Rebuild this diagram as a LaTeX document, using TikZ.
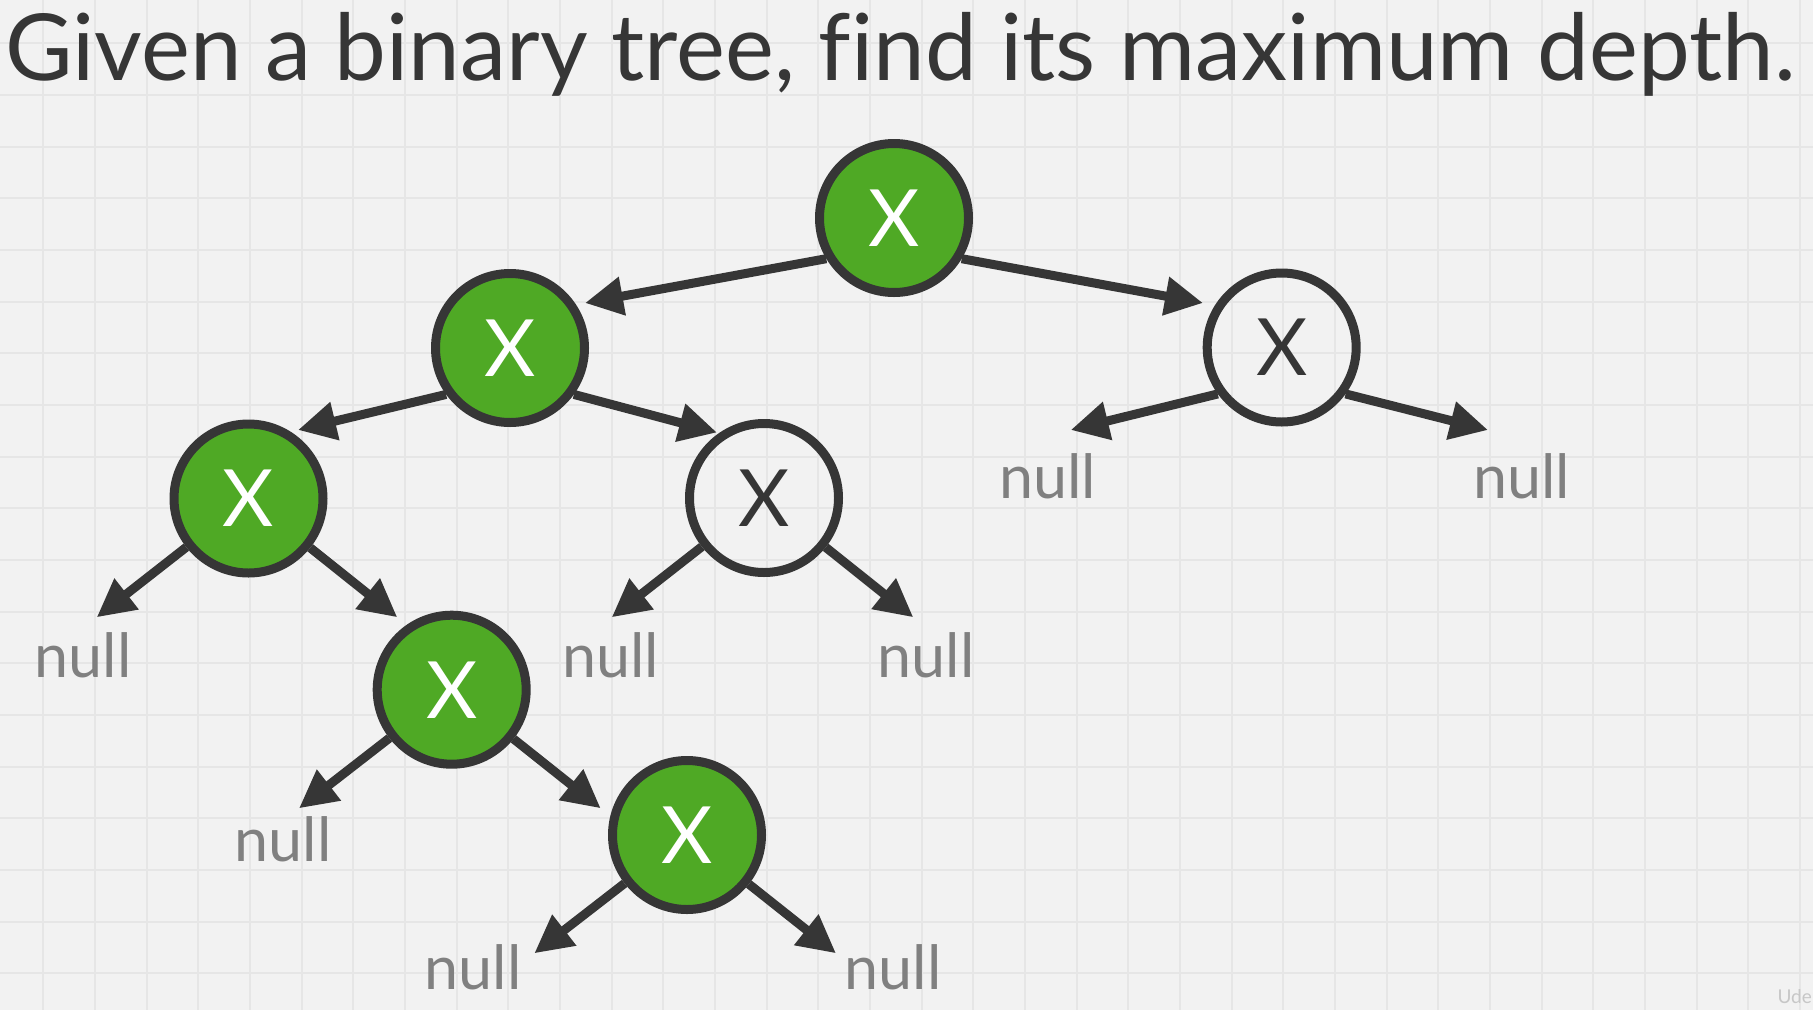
\documentclass[tikz,border=0pt]{standalone}
\usepackage{fontspec}
\setmainfont{Lato}[Ligatures=CommonOff]
\usetikzlibrary{arrows.meta}
\definecolor{bgc}{HTML}{F2F2F2}
\definecolor{gridc}{HTML}{E6E6E6}
\definecolor{ink}{HTML}{363636}
\definecolor{leaf}{HTML}{4FA925}
\definecolor{nullc}{HTML}{808080}
\tikzset{
  treenode/.style={circle, draw=ink, line width=9pt, minimum size=149pt, inner sep=0pt,
    font=\fontsize{79}{80}\selectfont},
  greennode/.style={treenode, fill=leaf, text=white},
  whitenode/.style={treenode, text=ink},
  edge/.style={draw=ink, line width=9pt, -{Triangle[length=38pt,width=37pt]}},
  nulltext/.style={anchor=base, text=nullc, inner sep=0pt, font=\fontsize{61}{62}\selectfont},
  gridline/.style={draw=gridc, line width=2pt}
}
\begin{document}
\begin{tikzpicture}[x=1pt,y=-1pt]
  \useasboundingbox (0,0) rectangle (1813,1010);
  \fill[bgc] (0,0) rectangle (1813,1010);
  \foreach \i in {0,...,34} { \draw[gridline] ({43.3+\i*51.67},0) -- ({43.3+\i*51.67},1010); }
  \foreach \i in {0,...,18} { \draw[gridline] (0,{43.3+\i*51.67}) -- (1813,{43.3+\i*51.67}); }

  \node[anchor=base west, inner sep=0pt, text=ink, font=\fontsize{92.5}{94}\selectfont] (title) at (5,80) {Given a binary tree, find its maximum depth.};

  % tree nodes
  \node[greennode] (root) at (894,218) {X};
  \node[greennode] (a) at (510,348) {X};
  \node[whitenode] (b) at (1281.7,347.5) {X};
  \node[greennode] (c) at (248.5,498.5) {X};
  \node[whitenode] (d) at (764,498) {X};
  \node[greennode] (e) at (451.7,689.7) {X};
  \node[greennode] (f) at (687,835) {X};

  % null labels
  \node[nulltext] (bl) at (1047.6,498) {null};
  \node[nulltext] (br) at (1521.7,498) {null};
  \node[nulltext] (cl) at (83,677) {null};
  \node[nulltext] (dl) at (610.5,677) {null};
  \node[nulltext] (dr) at (926,677) {null};
  \node[nulltext] (el) at (283,861.7) {null};
  \node[nulltext] (fl) at (473,989) {null};
  \node[nulltext] (fr) at (893,989) {null};

  % arrow tips
  \coordinate (tA) at (585,303);
  \coordinate (tB) at (1203,303);
  \coordinate (tC) at (298,430);
  \coordinate (tD) at (717,432.5);
  \coordinate (tBL) at (1070.7,430);
  \coordinate (tBR) at (1488,430);
  \coordinate (tCL) at (96.7,617.3);
  \coordinate (tE) at (397.3,617.3);
  \coordinate (tDL) at (611.7,617.3);
  \coordinate (tDR) at (913.3,617.3);
  \coordinate (tEL) at (299,808.3);
  \coordinate (tF) at (600.7,808.3);
  \coordinate (tFL) at (534.3,953.3);
  \coordinate (tFR) at (836,953.3);

  \draw[edge] (root.211) -- (tA);
  \draw[edge] (root.329) -- (tB);
  \draw[edge] (a.216) -- (tC);
  \draw[edge] (a.324) -- (tD);
  \draw[edge] (b.216) -- (tBL);
  \draw[edge] (b.324) -- (tBR);
  \draw[edge] (c) -- (tCL);
  \draw[edge] (c) -- (tE);
  \draw[edge] (d) -- (tDL);
  \draw[edge] (d) -- (tDR);
  \draw[edge] (e) -- (tEL);
  \draw[edge] (e) -- (tF);
  \draw[edge] (f) -- (tFL);
  \draw[edge] (f) -- (tFR);

  \node[anchor=base east, inner sep=0pt, text=black!22, font=\fontsize{19}{20}\selectfont] (wm) at (1812,1003) {Ude};
\end{tikzpicture}
\end{document}
